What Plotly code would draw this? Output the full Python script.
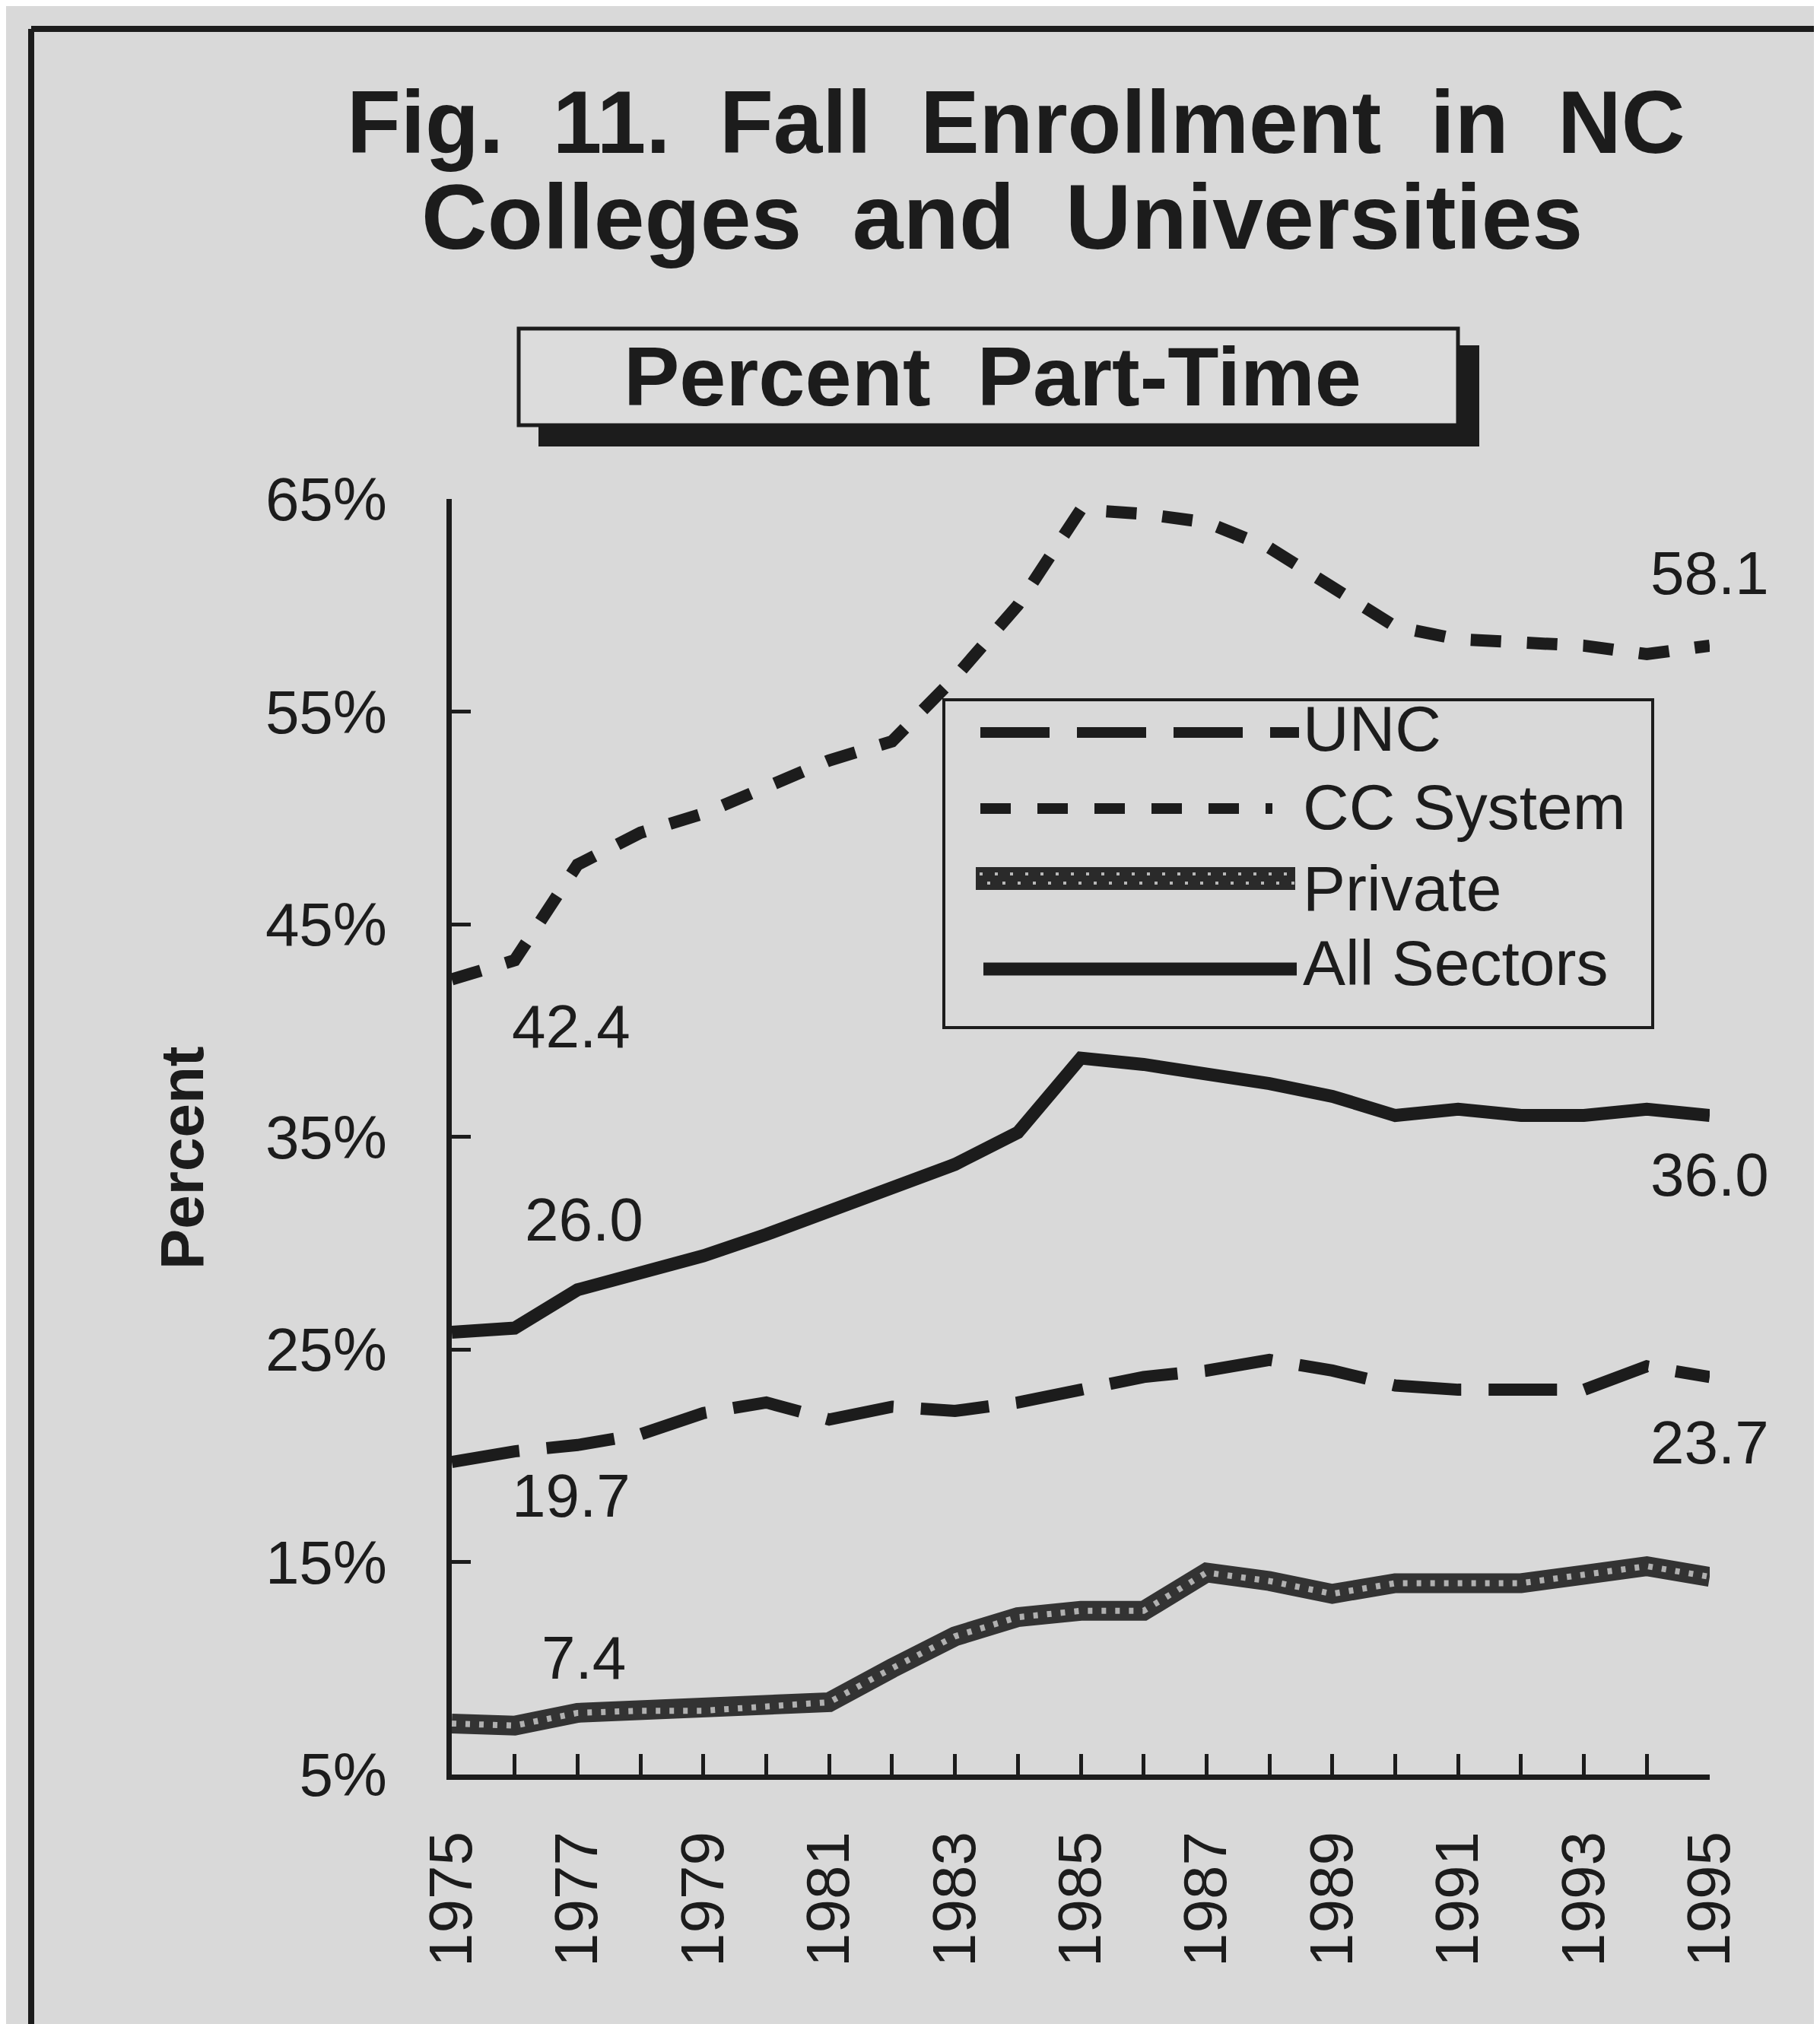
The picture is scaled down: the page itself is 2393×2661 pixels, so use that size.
import plotly.graph_objects as go

# ---------------- data ----------------
years = list(range(1975, 1996))
unc = [19.7, 20.2, 20.5, 21.0, 22.0, 22.5, 21.7, 22.3, 22.1, 22.5, 23.1,
       23.7, 24.0, 24.5, 24.0, 23.3, 23.1, 23.1, 23.1, 24.2, 23.7]
cc_system = [42.4, 43.3, 47.8, 49.3, 50.2, 51.4, 52.7, 53.6, 56.6, 60.0, 64.5,
             64.3, 63.9, 62.7, 60.9, 59.0, 58.4, 58.2, 58.1, 57.7, 58.1]
private = [7.4, 7.3, 7.9, 8.0, 8.0, 8.2, 8.4, 10.0, 11.5, 12.4, 12.7,
           12.7, 14.5, 14.1, 13.5, 14.0, 14.0, 14.0, 14.4, 14.8, 14.3]
all_sectors = [25.8, 26.0, 27.8, 28.6, 29.4, 30.4, 31.5, 32.6, 33.7, 35.2, 38.7,
               38.4, 38.0, 37.5, 36.9, 36.0, 36.3, 36.0, 36.0, 36.3, 36.0]

y_ticks = [5, 15, 25, 35, 45, 55, 65]
y_tick_text = ["5%", "15%", "25%", "35%", "45%", "55%", "65%"]
x_tick_text = [str(y) if y % 2 == 1 else "" for y in years]

series_names = ["UNC", "CC System", "Private", "All Sectors"]

# end-point labels: (text, x, y) in data coordinates
start_labels = [("42.4", 1976.9, 40.2), ("26.0", 1977.1, 31.1),
                ("19.7", 1976.9, 18.1), ("7.4", 1977.1, 10.5)]
end_labels = [("58.1", 1995.0, 61.5), ("36.0", 1995.0, 33.2),
              ("23.7", 1995.0, 20.6), ("14.3", 1995.1, 11.4)]

# ---------------- styling ----------------
W_PX, H_PX = 2393, 2661
L, R, T, B = 586, 2240, 648, 2325
BG = "#d9d9d9"
INK = "#1c1c1c"
FONT = "Liberation Sans, Arial, sans-serif"


def px(X):
    return (X - L) / (R - L)


def py(Y):
    return (B - Y) / (B - T)


fig = go.Figure()

fig.add_trace(go.Scatter(x=years, y=all_sectors, mode="lines", name="All Sectors",
                         line=dict(color=INK, width=17)))
fig.add_trace(go.Scatter(x=years, y=unc, mode="lines", name="UNC",
                         line=dict(color=INK, width=16, dash="90px,36px")))
fig.add_trace(go.Scatter(x=years, y=cc_system, mode="lines", name="CC System",
                         line=dict(color=INK, width=16, dash="40px,34px")))
fig.add_trace(go.Scatter(x=years, y=private, mode="lines", name="Private",
                         line=dict(color="#333333", width=26)))
fig.add_trace(go.Scatter(x=years, y=private, mode="lines", name="Private texture",
                         line=dict(color="#b0b0b0", width=8, dash="6px,12px")))

shapes = []
annotations = []

# outer frame
shapes += [
    dict(type="line", xref="paper", yref="paper", x0=px(33), x1=px(2393), y0=py(30), y1=py(30),
         line=dict(color=INK, width=8)),
    dict(type="line", xref="paper", yref="paper", x0=px(33), x1=px(33), y0=py(30), y1=py(2658),
         line=dict(color=INK, width=8)),
    dict(type="line", xref="paper", yref="paper", x0=px(33), x1=px(2393), y0=py(2658), y1=py(2658),
         line=dict(color="#333333", width=6)),
    dict(type="line", xref="paper", yref="paper", x0=px(2384), x1=px(2384), y0=py(30), y1=py(2658),
         line=dict(color="#bdbdbd", width=3)),
]

# subtitle box with shadow
shapes += [
    dict(type="rect", xref="paper", yref="paper", x0=px(700), x1=px(1937), y0=py(446), y1=py(579),
         fillcolor=INK, line=dict(width=0)),
    dict(type="rect", xref="paper", yref="paper", x0=px(674), x1=px(1909), y0=py(424), y1=py(551),
         fillcolor="#dcdcdc", line=dict(color=INK, width=5)),
]

# legend box
shapes.append(dict(type="rect", xref="paper", yref="paper", x0=px(1233), x1=px(2165),
                   y0=py(912), y1=py(1343), fillcolor=BG, line=dict(color=INK, width=4),
                   layer="above"))
leg_y = {"UNC": 955, "CC System": 1055, "Private": 1147, "All Sectors": 1266}
leg_text_y = {"UNC": 950, "CC System": 1053, "Private": 1160, "All Sectors": 1258}
shapes.append(dict(type="line", xref="paper", yref="paper", x0=px(1281), x1=px(1700),
                   y0=py(leg_y["UNC"]), y1=py(leg_y["UNC"]),
                   line=dict(color=INK, width=14, dash="91px,36px"), layer="above"))
shapes.append(dict(type="line", xref="paper", yref="paper", x0=px(1281), x1=px(1665),
                   y0=py(leg_y["CC System"]), y1=py(leg_y["CC System"]),
                   line=dict(color=INK, width=14, dash="40px,35px"), layer="above"))
shapes.append(dict(type="line", xref="paper", yref="paper", x0=px(1275), x1=px(1695),
                   y0=py(leg_y["Private"]), y1=py(leg_y["Private"]),
                   line=dict(color="#2a2a2a", width=30), layer="above"))
shapes.append(dict(type="line", xref="paper", yref="paper", x0=px(1280), x1=px(1695),
                   y0=py(leg_y["Private"] - 6), y1=py(leg_y["Private"] - 6),
                   line=dict(color="#b8b8b8", width=4, dash="4px,16px"), layer="above"))
shapes.append(dict(type="line", xref="paper", yref="paper", x0=px(1290), x1=px(1695),
                   y0=py(leg_y["Private"] + 6), y1=py(leg_y["Private"] + 6),
                   line=dict(color="#b8b8b8", width=4, dash="4px,16px"), layer="above"))
shapes.append(dict(type="line", xref="paper", yref="paper", x0=px(1285), x1=px(1697),
                   y0=py(leg_y["All Sectors"]), y1=py(leg_y["All Sectors"]),
                   line=dict(color=INK, width=17), layer="above"))
for name in series_names:
    annotations.append(dict(xref="paper", yref="paper", x=px(1703), y=py(leg_text_y[name]),
                            text=name, showarrow=False, xanchor="left", yanchor="middle",
                            font=dict(family=FONT, size=84, color=INK)))

# titles
annotations.append(dict(xref="paper", yref="paper", x=px(1328), y=py(153),
                        text="Fig.  11.  Fall  Enrollment  in  NC", showarrow=False,
                        xanchor="center", yanchor="middle",
                        font=dict(family=FONT, size=116, color=INK, weight="bold")))
annotations.append(dict(xref="paper", yref="paper", x=px(1309), y=py(277),
                        text="Colleges  and  Universities", showarrow=False,
                        xanchor="center", yanchor="middle",
                        font=dict(family=FONT, size=120, color=INK, weight="bold")))
annotations.append(dict(xref="paper", yref="paper", x=px(1297), y=py(486),
                        text="Percent  Part-Time", showarrow=False,
                        xanchor="center", yanchor="middle",
                        font=dict(family=FONT, size=110, color=INK, weight="bold")))
# y-axis title
annotations.append(dict(xref="paper", yref="paper", x=px(231), y=py(1515),
                        text="Percent", showarrow=False, textangle=-90,
                        xanchor="center", yanchor="middle",
                        font=dict(family=FONT, size=80, color=INK, weight="bold")))

# data labels
for txt, xv, yv in start_labels + end_labels:
    annotations.append(dict(xref="x", yref="y", x=xv, y=yv, text=txt, showarrow=False,
                            xanchor="center", yanchor="middle",
                            font=dict(family=FONT, size=80, color=INK)))

fig.update_layout(
    width=W_PX, height=H_PX,
    paper_bgcolor=BG, plot_bgcolor=BG,
    margin=dict(l=L, r=W_PX - R, t=T, b=H_PX - B, autoexpand=False),
    showlegend=False,
    shapes=shapes,
    annotations=annotations,
    font=dict(family=FONT, color=INK),
)
fig.update_xaxes(range=[1975, 1995], tickmode="array", tickvals=years, ticktext=x_tick_text,
                 tickangle=-90, ticks="inside", ticklen=27, tickwidth=5, tickcolor=INK,
                 showline=True, linewidth=7, linecolor=INK, showgrid=False, zeroline=False,
                 tickfont=dict(family=FONT, size=80, color=INK), ticklabelstandoff=36)
fig.update_yaxes(range=[5, 65], tickmode="array", tickvals=y_ticks, ticktext=y_tick_text,
                 ticks="inside", ticklen=25, tickwidth=5, tickcolor=INK,
                 showline=True, linewidth=7, linecolor=INK, showgrid=False, zeroline=False,
                 tickfont=dict(family=FONT, size=80, color=INK), ticklabelstandoff=62)

fig.write_html("out.html")
